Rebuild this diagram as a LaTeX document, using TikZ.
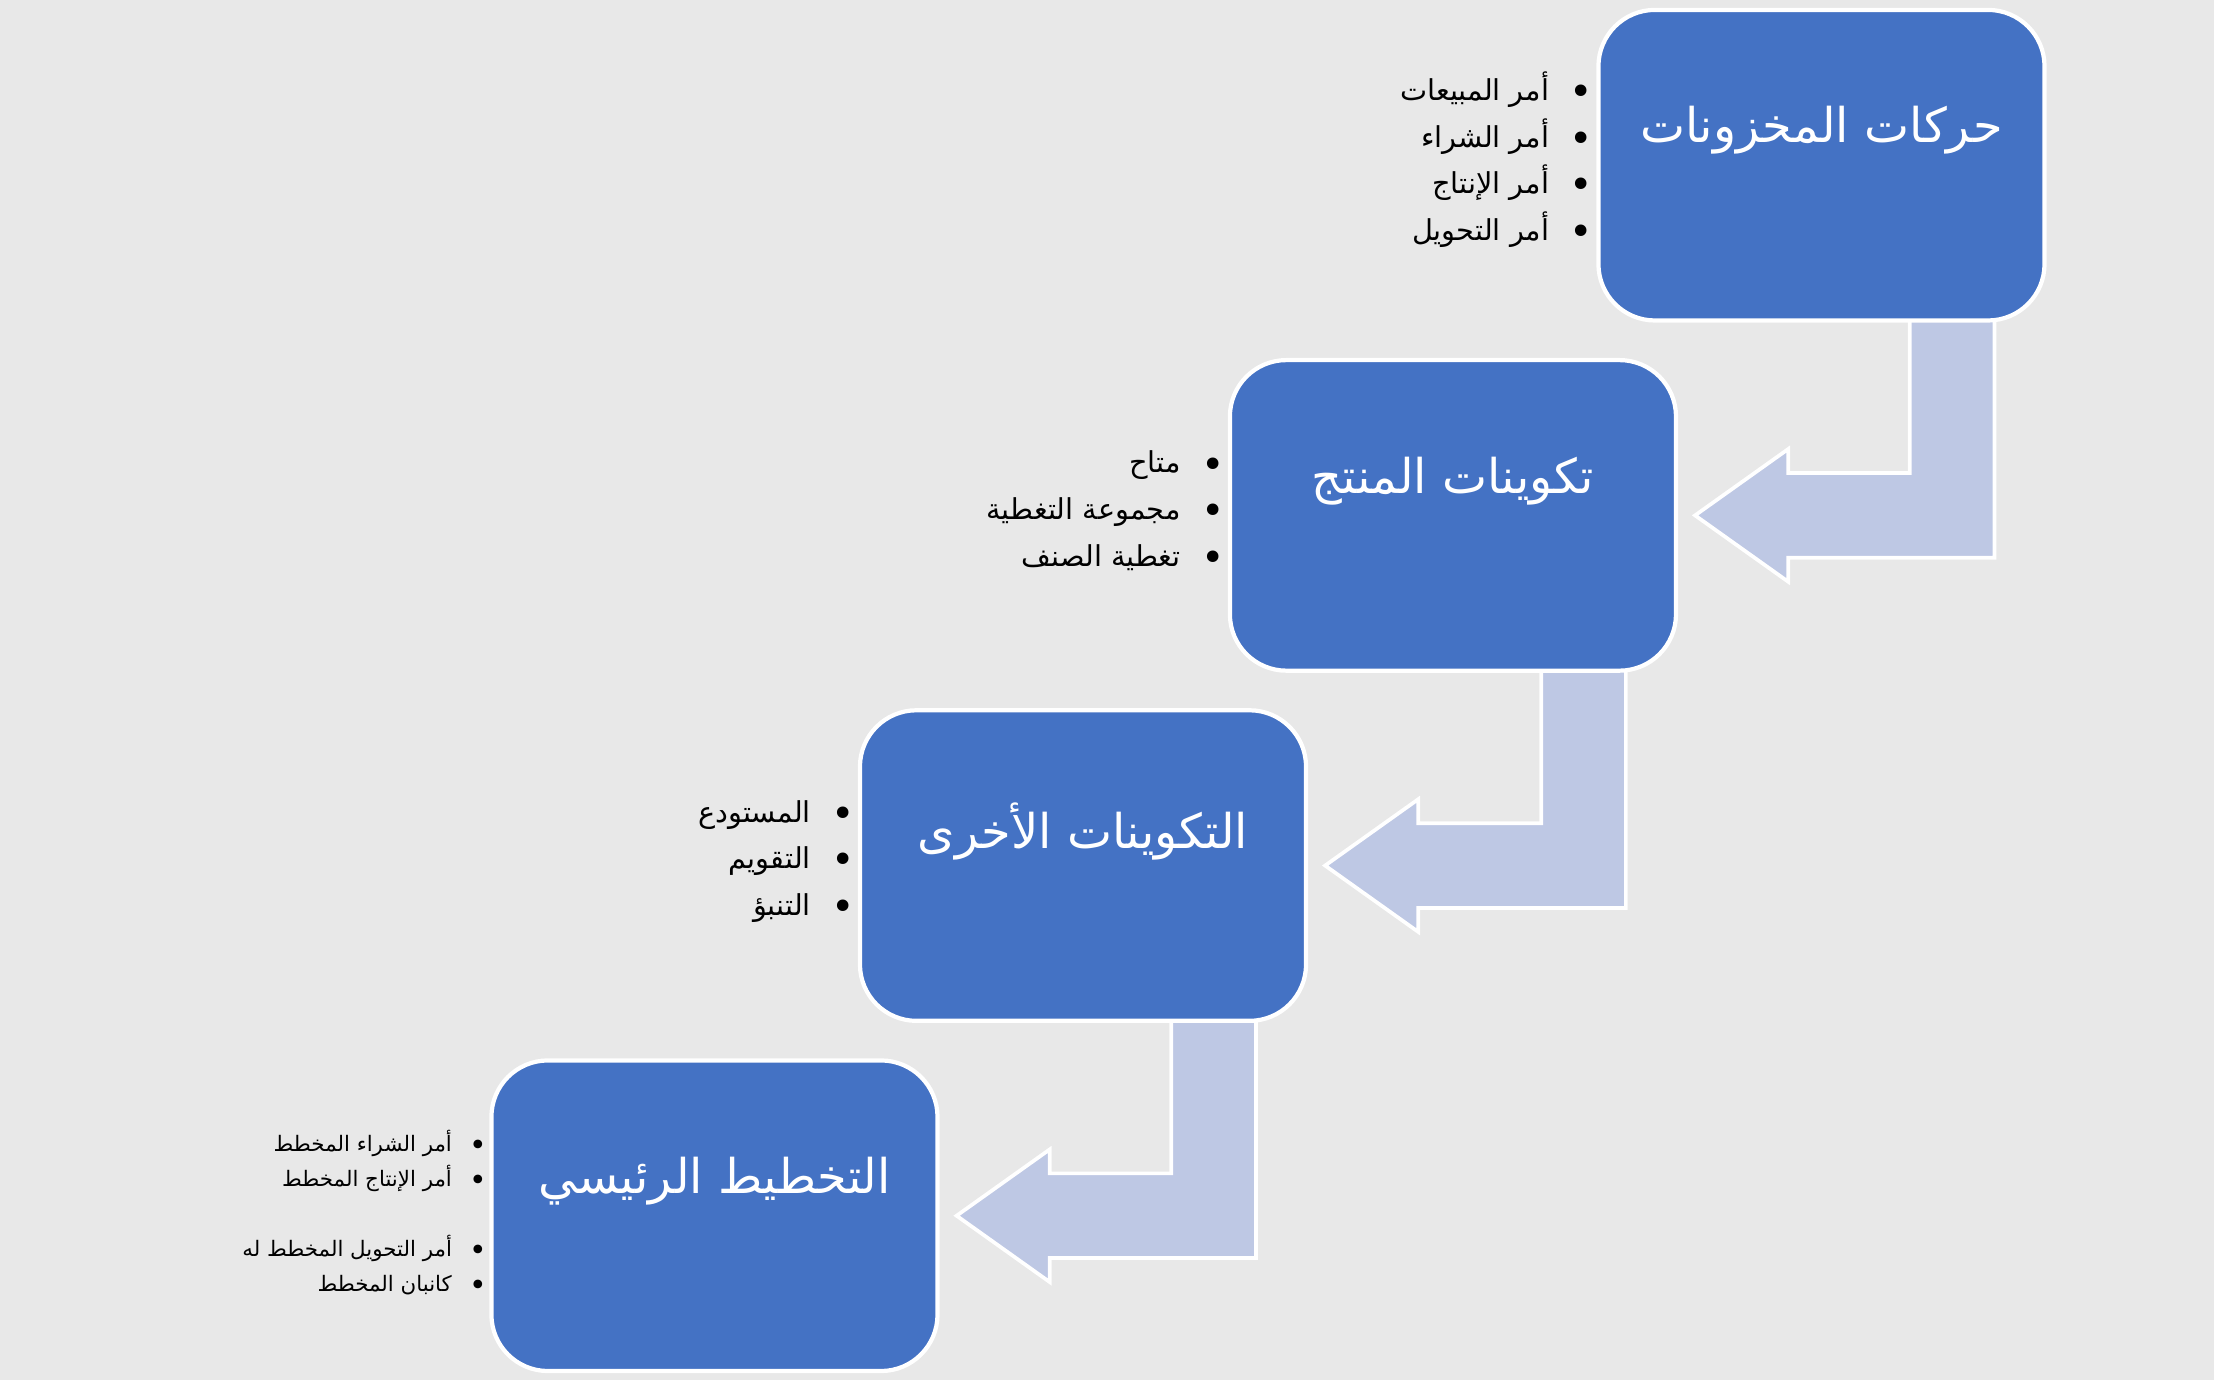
\documentclass[tikz,border=0pt]{standalone}
\usepackage{fontspec}
\newfontfamily\arabicfont[Script=Arabic]{DejaVu Sans}
\TeXXeTstate=1
\usetikzlibrary{calc}

\definecolor{stepblue}{HTML}{4472C4}
\definecolor{arrowfill}{RGB}{190,200,228}
\definecolor{bggray}{RGB}{232,232,232}

\pgfdeclarelayer{bg}
\pgfdeclarelayer{arrows}
\pgfsetlayers{bg,arrows,main}

\newcommand{\dotitem}[2][16]{\beginR\hbox{\fontsize{#1}{0}\selectfont\lower0.13em\hbox{•}}\hspace{4.5pt} #2\endR}

\tikzset{
    stepbox/.style={draw=white, line width=1.7pt, fill=stepblue, rounded corners=0.8cm,
        minimum width=6.32cm, minimum height=4.4cm, inner sep=0pt},
    steptitle/.style={text=white, font=\arabicfont\fontsize{19.3}{23}\selectfont},
    bulletlist/.style={anchor=east, align=right, inner sep=0pt, font=\arabicfont\fontsize{11.6}{18.8}\selectfont},
    bulletsmall/.style={bulletlist, font=\arabicfont\fontsize{8.6}{14.2}\selectfont},
    flowarrow/.style={draw=white, line width=1.5pt, fill=arrowfill, line join=miter}
}

\begin{document}
\begin{tikzpicture}[x=0.02cm, y=-0.02cm]

            \begin{pgfonlayer}{bg}
                \fill[bggray] (0,0) rectangle (1568,977);
            \end{pgfonlayer}
            \useasboundingbox (0,0) rectangle (1568,977);

            \node[stepbox] (inv)    at (1290,117) {};
            \node[stepbox] (prod)   at (1029,365) {};
            \node[stepbox] (other)  at (767,613)  {};
            \node[stepbox] (master) at (506,861)  {};

            \node[steptitle] (inv-title)    at ($(inv.north)+(0,87)$)    {\beginR حركات المخزونات\endR};
            \node[steptitle] (prod-title)   at ($(prod.north)+(0,87)$)   {\beginR تكوينات المنتج\endR};
            \node[steptitle] (other-title)  at ($(other.north)+(0,87)$)  {\beginR التكوينات الأخرى\endR};
            \node[steptitle] (master-title) at ($(master.north)+(0,87)$) {\beginR التخطيط الرئيسي\endR};

            \node[bulletlist] (inv-list) at ($(inv.west)+(-2,-4)$)
                {\dotitem{أمر المبيعات}\\ \dotitem{أمر الشراء}\\
                 \dotitem{أمر الإنتاج}\\ \dotitem{أمر التحويل}};
            \node[bulletlist] (prod-list) at ($(prod.west)+(-2,-3)$)
                {\dotitem{متاح}\\ \dotitem{مجموعة التغطية}\\ \dotitem{تغطية الصنف}};
            \node[bulletlist] (other-list) at ($(other.west)+(-2,-3)$)
                {\dotitem{المستودع}\\ \dotitem{التقويم}\\ \dotitem{التنبؤ}};
            \node[bulletsmall] (master-list) at ($(master.west)+(-1,-2)$)
                {\dotitem[12]{أمر الشراء المخطط}\\ \dotitem[12]{أمر الإنتاج المخطط}\\[14pt]
                 \dotitem[12]{أمر التحويل المخطط له}\\ \dotitem[12]{كانبان المخطط}};

            \begin{pgfonlayer}{arrows}
                \foreach \from/\to in {inv/prod, prod/other, other/master} {
                    \coordinate (in)  at ($(\from.south east)+(-97,-20)$);
                    \coordinate (out) at ($(\from.south east)+(-37,-20)$);
                    \coordinate (tip) at ($(\to.east)+(12,0)$);
                    \coordinate (hu)  at ($(tip)+(0,-30)$);
                    \coordinate (hl)  at ($(tip)+(0,30)$);
                    \draw[flowarrow] (in) -- (in |- hu) -- ($(tip)+(66,-30)$) -- ($(tip)+(66,-47)$) -- (tip)
                        -- ($(tip)+(66,47)$) -- ($(tip)+(66,30)$) -- (out |- hl) -- (out) -- cycle;
                }
            \end{pgfonlayer}
        \end{tikzpicture}
\end{document}
